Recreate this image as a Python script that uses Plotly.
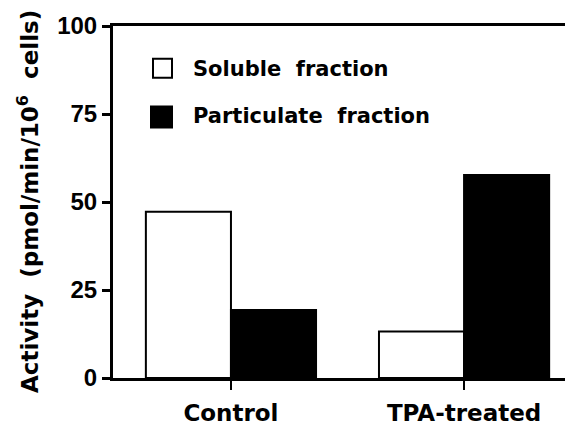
import plotly.graph_objects as go

# ---- data ----
categories = ["Control", "TPA-treated"]
series_names = ["Soluble\u00a0\u00a0fraction", "Particulate\u00a0\u00a0fraction"]
soluble = [47.2, 13.2]
particulate = [19.3, 57.7]
y_ticks = [0, 25, 50, 75, 100]

# page is rendered with an 8px body margin; compensate
OFF = 8
PAGE_W, PAGE_H = 573, 427
W, H = PAGE_W - OFF, PAGE_H - OFF
# desired plot area in page pixels
PL, PR, PT, PB = 113, 572, 26, 380
ML, MT = PL - OFF, PT - OFF
MR = W - (PR - OFF)
MB = H - (PB - OFF)
PW, PH = PR - PL, PB - PT

def px(x):
    return (x - PL) / PW

def py(y):
    return (PB - y) / PH

fig = go.Figure()
fig.add_trace(go.Bar(x=categories, y=soluble, name=series_names[0],
                     marker=dict(color="white", line=dict(color="black", width=2))))
fig.add_trace(go.Bar(x=categories, y=particulate, name=series_names[1],
                     marker=dict(color="black", line=dict(color="black", width=2))))

# manual legend
fills = ["white", "black"]
boxes = [(153, 172, 59, 78), (151, 172, 107, 128)]
text_y = [69, 117]
for name, fill, (x0, x1, y0, y1), ty in zip(series_names, fills, boxes, text_y):
    fig.add_shape(type="rect", xref="paper", yref="paper",
                  x0=px(x0), x1=px(x1), y0=py(y1), y1=py(y0),
                  fillcolor=fill, line=dict(color="black", width=2))
    fig.add_annotation(xref="paper", yref="paper", x=px(191), y=py(ty),
                       xanchor="left", yanchor="middle", text=name, showarrow=False,
                       font=dict(family="DejaVu Sans", size=21, color="black", weight="bold"))

# y title
fig.add_annotation(xref="paper", yref="paper", x=px(28), y=py(203),
                   xanchor="center", yanchor="middle", textangle=-90, showarrow=False,
                   text="Activity\u00a0\u00a0(pmol/min/10<sup>6</sup>\u00a0\u00a0cells)",
                   font=dict(family="DejaVu Sans", size=23, color="black", weight="bold"))

fig.update_layout(
    width=W, height=H,
    margin=dict(l=ML, r=MR, t=MT, b=MB, pad=0),
    paper_bgcolor="white", plot_bgcolor="white",
    barmode="group", bargap=0.27, bargroupgap=0,
    showlegend=False,
    xaxis=dict(range=[-0.506, 1.463], showgrid=False, zeroline=False,
               showline=True, linecolor="black", linewidth=3, mirror=True,
               ticks="outside", ticklen=9, tickwidth=2, tickcolor="black",
               ticklabelstandoff=3,
               tickfont=dict(family="DejaVu Sans", size=23, color="black", weight="bold")),
    yaxis=dict(range=[0, 100], tickvals=y_ticks, showgrid=False, zeroline=False,
               showline=True, linecolor="black", linewidth=3,
               ticks="outside", ticklen=8, tickwidth=3, tickcolor="black",
               tickfont=dict(family="Liberation Sans", size=24, color="black", weight="bold")),
)

fig.write_html("out.html")
